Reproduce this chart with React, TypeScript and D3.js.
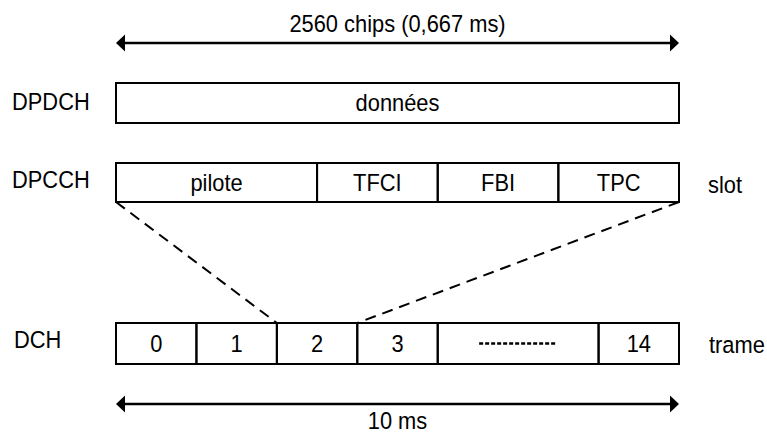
import React from "react";
import * as d3 from "d3";

const W = 767;
const H = 434;

const topLabel = "2560 chips (0,667 ms)";
const bottomLabel = "10 ms";
const rowLabels = ["DPDCH", "DPCCH", "DCH"];
const sideLabels = ["slot", "trame"];
const dataLabel = "données";
const slotFields = ["pilote", "TFCI", "FBI", "TPC"];
const slotFieldUnits = [5, 3, 3, 3];
const frameCells = ["0", "1", "2", "3", "", "14"];
const frameCellUnits = [1, 1, 1, 1, 2, 1];
const zoomedCell = 2;

const FONT = "'Liberation Sans', Arial, Helvetica, sans-serif";
const FS = 23.5;
const SX = 0.93;

function cumulative(units: number[]) {
  const starts: number[] = [];
  let acc = 0;
  units.forEach((u) => {
    starts.push(acc);
    acc += u;
  });
  return { starts, total: acc };
}

function T({ x, y, anchor = "start", children }: { x: number; y: number; anchor?: string; children: React.ReactNode }) {
  return (
    <g transform={`translate(${x},${y}) scale(${SX},1)`}>
      <text x={0} y={0} textAnchor={anchor} style={{ fontFamily: FONT, fontSize: FS, fill: "#000" }}>
        {children}
      </text>
    </g>
  );
}

function Arrow({ x0, x1, y }: { x0: number; x1: number; y: number }) {
  const hl = 9;
  const hh = 8.5;
  return (
    <g>
      <line x1={x0 + 4} x2={x1 - 4} y1={y} y2={y} stroke="#000" strokeWidth={2.5} />
      <polygon points={`${x0},${y} ${x0 + hl},${y - hh} ${x0 + hl},${y + hh}`} fill="#000" />
      <polygon points={`${x1},${y} ${x1 - hl},${y - hh} ${x1 - hl},${y + hh}`} fill="#000" />
    </g>
  );
}

export default function App() {
  const left = 116;
  const right = 679;
  const mid = (left + right) / 2;

  const rows = { dpdch: [83, 123], dpcch: [163, 202], dch: [323, 364] };

  const slot = cumulative(slotFieldUnits);
  const xs = d3.scaleLinear().domain([0, slot.total]).range([left, right]);
  const frame = cumulative(frameCellUnits);
  const xf = d3.scaleLinear().domain([0, frame.total]).range([left, right]);

  const cap = FS * 0.716;
  const base = (r: number[]) => (r[0] + r[1]) / 2 + cap / 2;

  const zx0 = xf(frame.starts[zoomedCell]);
  const zx1 = xf(frame.starts[zoomedCell] + frameCellUnits[zoomedCell]);

  return (
    <svg width={W} height={H} style={{ position: "absolute", left: 0, top: 0, background: "#fff" }}>
      <rect x={0} y={0} width={W} height={H} fill="#fff" />
      {/* top arrow */}
      <T x={mid} y={32} anchor="middle">{topLabel}</T>
      <Arrow x0={left} x1={right} y={43} />

      {/* DPDCH */}
      <T x={12} y={base(rows.dpdch) - 1}>{rowLabels[0]}</T>
      <rect x={left} y={rows.dpdch[0]} width={right - left} height={rows.dpdch[1] - rows.dpdch[0]} fill="none" stroke="#000" strokeWidth={2} />
      <T x={mid} y={base(rows.dpdch)} anchor="middle">{dataLabel}</T>

      {/* DPCCH */}
      <T x={12} y={base(rows.dpcch) - 3}>{rowLabels[1]}</T>
      {slotFields.map((f, i) => {
        const x0 = xs(slot.starts[i]);
        const x1 = xs(slot.starts[i] + slotFieldUnits[i]);
        return (
          <g key={f}>
            <rect x={x0} y={rows.dpcch[0]} width={x1 - x0} height={rows.dpcch[1] - rows.dpcch[0]} fill="none" stroke="#000" strokeWidth={2} />
            <T x={(x0 + x1) / 2} y={base(rows.dpcch)} anchor="middle">{f}</T>
          </g>
        );
      })}
      <T x={708} y={base(rows.dpcch) + 2}>{sideLabels[0]}</T>

      {/* dashed zoom lines */}
      <line x1={left} y1={rows.dpcch[1]} x2={zx0} y2={rows.dch[0]} stroke="#000" strokeWidth={2} strokeDasharray="11,7" />
      <line x1={right} y1={rows.dpcch[1]} x2={zx1} y2={rows.dch[0]} stroke="#000" strokeWidth={2} strokeDasharray="11,7" />

      {/* DCH */}
      <T x={14} y={base(rows.dch) - 4}>{rowLabels[2]}</T>
      {frameCells.map((c, i) => {
        const x0 = xf(frame.starts[i]);
        const x1 = xf(frame.starts[i] + frameCellUnits[i]);
        const cyv = (rows.dch[0] + rows.dch[1]) / 2;
        return (
          <g key={i}>
            <rect x={x0} y={rows.dch[0]} width={x1 - x0} height={rows.dch[1] - rows.dch[0]} fill="none" stroke="#000" strokeWidth={2} />
            {c ? (
              <T x={(x0 + x1) / 2} y={base(rows.dch)} anchor="middle">{c}</T>
            ) : (
              <line x1={(x0 + x1) / 2 - 39} x2={(x0 + x1) / 2 + 39} y1={cyv} y2={cyv} stroke="#000" strokeWidth={2.5} strokeDasharray="4,2" />
            )}
          </g>
        );
      })}
      <T x={709} y={base(rows.dch) + 1}>{sideLabels[1]}</T>

      {/* bottom arrow */}
      <Arrow x0={left} x1={right} y={404} />
      <T x={mid} y={429} anchor="middle">{bottomLabel}</T>
    </svg>
  );
}
